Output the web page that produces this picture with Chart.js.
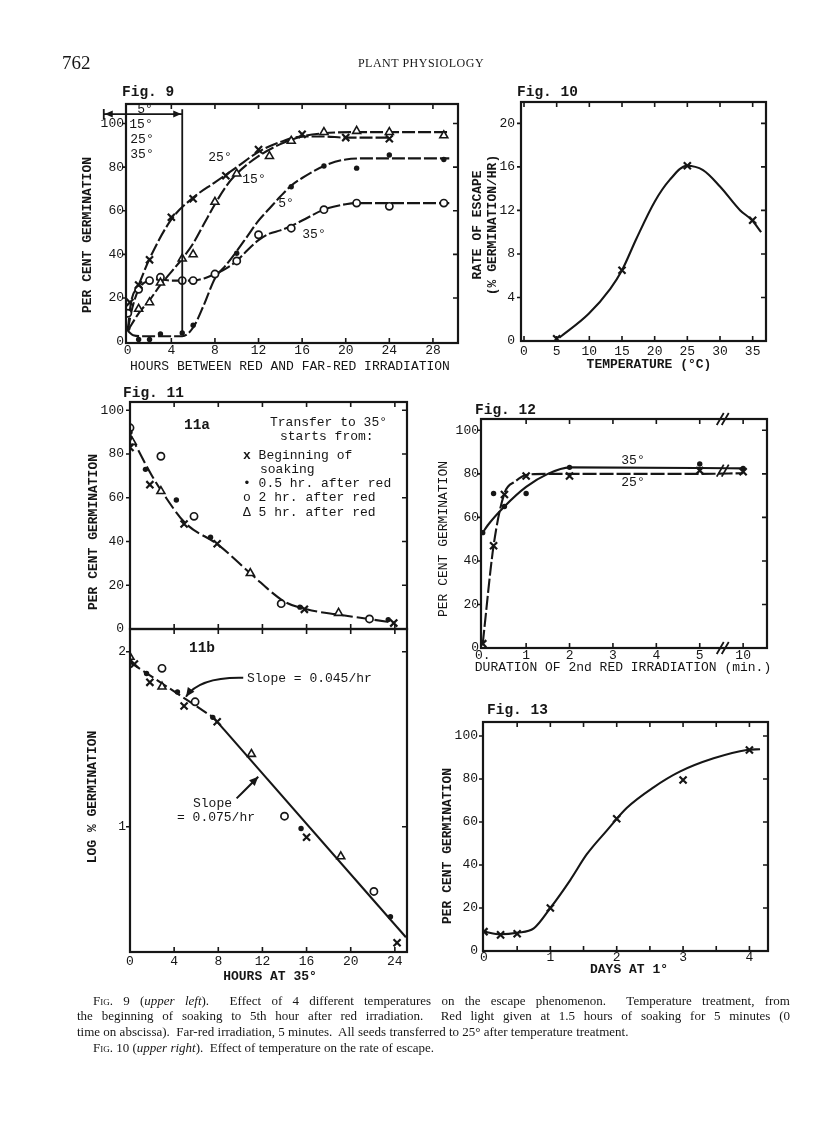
<!DOCTYPE html>
<html><head><meta charset="utf-8">
<script src="https://cdn.jsdelivr.net/npm/chart.js@4.4.1/dist/chart.umd.min.js"></script>
<style>
html,body{margin:0;padding:0;background:#fff}
#page{position:relative;width:816px;height:1121px;overflow:hidden;background:#fff}
canvas{position:absolute;left:0;top:0}
.t{position:absolute;font-family:"Liberation Mono","DejaVu Sans Mono",monospace;font-size:13px;color:#161616;white-space:nowrap;line-height:1;transform:translate(-50%,-50%)}
.l{transform:translate(0,-50%)}
.r{transform:translate(-50%,-50%) rotate(-90deg)}
.b{font-weight:bold}
.fig{font-size:14.5px;font-weight:bold}
.cap{position:absolute;font-family:"Liberation Serif","Times New Roman",serif;font-size:13px;color:#161616;line-height:15px;white-space:nowrap}
.just{text-align:justify;text-align-last:justify;white-space:normal}
.sc{font-variant:small-caps}
</style></head>
<body><div id="page">
<canvas id="c9" width="816" height="1121"></canvas>
<canvas id="c10" width="816" height="1121"></canvas>
<canvas id="c11a" width="816" height="1121"></canvas>
<canvas id="c11b" width="816" height="1121"></canvas>
<canvas id="c12" width="816" height="1121"></canvas>
<canvas id="c13" width="816" height="1121"></canvas>

<!-- header -->
<div class="cap" style="left:62px;top:52px;font-size:19px;line-height:22px">762</div>
<div class="cap" style="left:421px;top:56px;font-size:12px;letter-spacing:0.5px;transform:translateX(-50%)">PLANT PHYSIOLOGY</div>

<!-- Fig 9 texts -->
<div class="t l fig" style="left:122px;top:92px">Fig. 9</div>
<div class="t r b" style="left:87px;top:235px">PER CENT GERMINATION</div>
<div class="t" style="left:290px;top:366px">HOURS BETWEEN RED AND FAR-RED IRRADIATION</div>
<div class="t" style="left:220px;top:157px">25°</div>
<div class="t" style="left:254px;top:179px">15°</div>
<div class="t" style="left:286px;top:203px">5°</div>
<div class="t" style="left:314px;top:234px">35°</div>
<div class="t" style="left:145px;top:109px">5°</div>
<div class="t" style="left:141px;top:124px">15°</div>
<div class="t" style="left:142px;top:139px">25°</div>
<div class="t" style="left:142px;top:154px">35°</div>

<!-- Fig 10 texts -->
<div class="t l fig" style="left:517px;top:92px">Fig. 10</div>
<div class="t r b" style="left:477px;top:225px">RATE OF ESCAPE</div>
<div class="t r b" style="left:492px;top:225px">(% GERMINATION/HR)</div>
<div class="t b" style="left:649px;top:364px">TEMPERATURE  (°C)</div>

<!-- Fig 11 texts -->
<div class="t l fig" style="left:123px;top:393px">Fig. 11</div>
<div class="t fig" style="left:197px;top:425px">11a</div>
<div class="t l" style="left:270px;top:422px">Transfer to 35°</div>
<div class="t l" style="left:280px;top:436px">starts from:</div>
<div class="t l" style="left:243px;top:455px"><b>x</b> Beginning of</div>
<div class="t l" style="left:260px;top:469px">soaking</div>
<div class="t l" style="left:243px;top:483px">• 0.5 hr. after red</div>
<div class="t l" style="left:243px;top:497px">o 2 hr. after red</div>
<div class="t l" style="left:243px;top:512px">Δ 5 hr. after red</div>
<div class="t r b" style="left:93px;top:532px">PER CENT GERMINATION</div>
<div class="t fig" style="left:202px;top:648px">11b</div>
<div class="t r b" style="left:92px;top:797px">LOG % GERMINATION</div>
<div class="t b" style="left:270px;top:976px">HOURS  AT  35°</div>
<div class="t l" style="left:247px;top:678px">Slope = 0.045/hr</div>
<div class="t l" style="left:193px;top:803px">Slope</div>
<div class="t l" style="left:177px;top:817px">= 0.075/hr</div>

<!-- Fig 12 texts -->
<div class="t l fig" style="left:475px;top:410px">Fig. 12</div>
<div class="t r" style="left:443px;top:539px">PER CENT  GERMINATION</div>
<div class="t" style="left:623px;top:667px">DURATION OF 2nd RED IRRADIATION (min.)</div>
<div class="t" style="left:633px;top:460px">35°</div>
<div class="t" style="left:633px;top:482px">25°</div>

<!-- Fig 13 texts -->
<div class="t l fig" style="left:487px;top:710px">Fig. 13</div>
<div class="t r b" style="left:447px;top:846px">PER CENT  GERMINATION</div>
<div class="t b" style="left:629px;top:969px">DAYS  AT  1°</div>

<!-- caption -->
<div class="cap just" style="left:93px;top:993px;width:697px"><span class="sc">Fig.</span> 9 (<i>upper left</i>).&nbsp; Effect of 4 different temperatures on the escape phenomenon.&nbsp; Temperature treatment, from</div>
<div class="cap just" style="left:77px;top:1008px;width:713px">the beginning of soaking to 5th hour after red irradiation.&nbsp; Red light given at 1.5 hours of soaking for 5 minutes (0</div>
<div class="cap" style="left:77px;top:1024px">time on abscissa).&nbsp; Far-red irradiation, 5 minutes.&nbsp; All seeds transferred to 25° after temperature treatment.</div>
<div class="cap" style="left:93px;top:1040px"><span class="sc">Fig.</span> 10 (<i>upper right</i>).&nbsp; Effect of temperature on the rate of escape.</div>
</div>

<script>
// ---------------- DATA ----------------
// Fig 9 : per cent germination vs hours between red and far-red
const F9_XTICKS=[0,4,8,12,16,20,24,28];
const F9_YTICKS=[0,20,40,60,80,100];
const F9_25_X=[0.2,1,2,4,6,9,12,16,20,24];
const F9_25_Y=[18,26,37.5,57,65.5,76,88,95,93.5,93];
const F9_15_X=[1,2,3,5,6,8,10,13,15,18,21,24,29];
const F9_15_Y=[15,18,27,38,40,64,77,85,92,96,96.5,96,94.5];
const F9_5_X=[0,1,2,3,5,6,10,15,18,21,24,29];
const F9_5_Y=[6,1,1,3.5,4,7.5,40.5,71,80.5,79.5,85.5,83.5];
const F9_35_X=[0,1,2,3,5,6,8,10,12,15,18,21,24,29];
const F9_35_Y=[13,24,28,29.5,28,28,31,37,49,52,60.5,63.5,62,63.5];
// hand-drawn curves
const F9_25_CX=[0,0.3,1,2,4,6,8,10,12,14,16,18,20,24];
const F9_25_CY=[5,18,26,38,56,66,73,80,87,91.5,94,94,93.5,93.5];
const F9_15_CX=[0,1,2,3,4,5,6,7,8,9,10,12,14,16,18,21,29.5];
const F9_15_CY=[5,13,19,26,32,38,45,54,63,71,77,85,90.5,94,95.5,96,96];
const F9_5_CX=[0,0.5,1.5,5,6,7,8,9,10,11,12,13,14,15,16,18,20,22,29.5];
const F9_5_CY=[5,3,2.5,2.5,6.5,17,29,35,41.5,48.5,55.5,61,66.5,71.5,75,80.5,83.5,84,84];
const F9_35_CX=[0,0.3,1,2,3,4,6,7,8,9,10,11,12,13,14,15,16,18,20,21,29.5];
const F9_35_CY=[5,13,24,28,28.5,28,28,29,31,33.5,37,42,46.5,49.5,51,53,55.5,60.5,63,63.5,63.5];
const F9_ARROW={x0:-2.2,x1:5,y:104.3,yTop:106.5,yEnd:4.6};

// Fig 10 : rate of escape vs temperature
const F10_XTICKS=[0,5,10,15,20,25,30,35];
const F10_YTICKS=[0,4,8,12,16,20];
const F10_X=[5,15,25,35];
const F10_Y=[0.2,6.5,16.1,11.1];
const F10_CX=[5.4,9.9,13.2,15,17.2,20,22.3,24.9,27.4,30,33.1,34.9,36.3];
const F10_CY=[0.3,2.5,4.8,6.5,9.4,12.8,14.8,16.1,15.7,14.2,12,11.1,10];

// Fig 11a : per cent germination vs hours at 35
const F11_XTICKS=[0,4,8,12,16,20,24];
const F11A_YTICKS=[0,20,40,60,80,100];
const F11A_BEG_X=[0,1.8,4.9,7.9,15.8,23.9];
const F11A_BEG_Y=[83,66,48,39,9,2.7];
const F11A_H05_X=[0,1.4,4.2,7.3,15.4,23.4];
const F11A_H05_Y=[90,73,59,42,10,4.3];
const F11A_H2_X=[0,2.8,5.8,13.7,21.7];
const F11A_H2_Y=[92,79,51.5,11.6,4.6];
const F11A_H5_X=[0.2,2.8,10.9,18.9];
const F11A_H5_Y=[85.5,63,25.5,7.3];
const F11A_CX=[0,2,3,5,8,11,14,16,19,22,24];
const F11A_CY=[89,70,62,48.5,38.5,25,12.5,9,6.5,4.3,2.8];

// Fig 11b : log % germination vs hours at 35
const F11B_YTICKS=[1,2];
const F11B_BEG_X=[0.4,1.8,4.9,7.9,16,24.2];
const F11B_BEG_Y=[1.93,1.825,1.69,1.6,0.94,0.337];
const F11B_H05_X=[0,1.5,4.3,7.5,15.5,23.6];
const F11B_H05_Y=[1.94,1.876,1.77,1.625,0.99,0.486];
const F11B_H2_X=[2.9,5.9,14,22.1];
const F11B_H2_Y=[1.905,1.714,1.06,0.63];
const F11B_H5_X=[0,2.9,11,19.1];
const F11B_H5_Y=[1.97,1.80,1.415,0.83];
const F11B_FIT1_X=[0,7.55], F11B_FIT1_Y=[1.94,1.625];
const F11B_FIT2_X=[7.55,25], F11B_FIT2_Y=[1.625,0.368];
const F11B_ARROWS=[{from:[10.26,1.851],ctrl:[6.34,1.857],to:[5.07,1.743]},
                   {from:[9.66,1.162],ctrl:[10.87,1.238],to:[11.62,1.286]}];

// Fig 12 : per cent germination vs duration of 2nd red (min), broken axis after 5
const F12_XTICKS=[0,1,2,3,4,5,6];
const F12_XLABELS=['0.','1','2','3','4','5','10'];
const F12_YTICKS=[0,20,40,60,80,100];
const F12_MIN=[0,0.25,0.5,1,2,5,10];
const F12_25=[2,47,70.5,79,79,81.5,81];
const F12_35=[53,71,65,71,83,84.5,82.5];
const F12_25_CX=[0,0.25,0.5,0.75,1,1.5,2,5,10];
const F12_25_CY=[2,47,71,76.5,79.5,80,80,80,80.3];
const F12_35_CX=[0,0.12,0.5,1,1.5,2,5,10];
const F12_35_CY=[53,56.5,65,74,80,83,82.7,82.5];
const F12_BREAK={x:5.53,y:81.5};

// Fig 13 : per cent germination vs days at 1
const F13_XTICKS=[0,1,2,3,4];
const F13_XMARKS=[0.5,1,1.5,2,2.5,3,3.5,4];
const F13_YTICKS=[0,20,40,60,80,100];
const F13_X=[0,0.25,0.5,1,2,3,4];
const F13_Y=[9,7.5,8,20,61.5,79.5,93.5];
const F13_CX=[0,0.25,0.5,0.75,1,1.3,1.55,1.85,2.15,2.55,2.95,3.46,3.96,4.16];
const F13_CY=[9,7.8,8.5,10.5,20,33,45,56,66.5,76,83.4,89.6,93.5,93.8];

// ---------------- HELPERS ----------------
const INK='#161616';
const MONO='"Liberation Mono","DejaVu Sans Mono",monospace';
const pts=(xs,ys)=>xs.map((v,i)=>({x:v,y:ys[i]}));
const brk=d=>d<=5?d:5+(d-5)/5;
const mX=(xs,ys)=>({data:pts(xs,ys),pointStyle:'crossRot',pointRadius:5,pointBorderWidth:2.2,pointBorderColor:INK,pointBackgroundColor:INK,showLine:false});
const mDot=(xs,ys)=>({data:pts(xs,ys),pointStyle:'circle',pointRadius:2.7,pointBorderWidth:0,pointBorderColor:INK,pointBackgroundColor:INK,showLine:false});
const mCir=(xs,ys)=>({data:pts(xs,ys),pointStyle:'circle',pointRadius:3.6,pointBorderWidth:1.7,pointBorderColor:INK,pointBackgroundColor:'#fff',showLine:false});
const mTri=(xs,ys)=>({data:pts(xs,ys),pointStyle:'triangle',pointRadius:4.6,pointBorderWidth:1.6,pointBorderColor:INK,pointBackgroundColor:'#fff',showLine:false});
const curve=(xs,ys,dash)=>({data:pts(xs,ys),showLine:true,pointRadius:0,borderColor:INK,borderWidth:2.1,borderDash:dash||[],cubicInterpolationMode:'monotone',fill:false});
const straight=(xs,ys,dash)=>({data:pts(xs,ys),showLine:true,pointRadius:0,borderColor:INK,borderWidth:2.1,borderDash:dash||[],tension:0,fill:false});

function head(ctx,tx,ty,ang,L,W){
  L=L||8;W=W||3.5;
  const c=Math.cos(ang),s=Math.sin(ang);
  ctx.beginPath();ctx.moveTo(tx,ty);
  ctx.lineTo(tx-L*c-W*s,ty-L*s+W*c);
  ctx.lineTo(tx-L*c+W*s,ty-L*s-W*c);
  ctx.closePath();ctx.fill();
}

const framePlugin={id:'frame',afterDraw(chart,args,o){
  const {ctx,chartArea:a,scales:{x,y}}=chart;
  ctx.save();ctx.strokeStyle=INK;ctx.lineWidth=o.lw||2.2;
  ctx.strokeRect(a.left,a.top,a.right-a.left,a.bottom-a.top);
  ctx.lineWidth=1.6;ctx.beginPath();
  const xs=o.xMarks||x.ticks.map(t=>t.value);
  const ys=o.yMarks||y.ticks.map(t=>t.value);
  xs.forEach(v=>{const p=x.getPixelForValue(v);if(p<a.left+3||p>a.right-3)return;
    if(o.bottom!==false){ctx.moveTo(p,a.bottom+(o.cross?5:0));ctx.lineTo(p,a.bottom-5);}
    if(o.top!==false){ctx.moveTo(p,a.top);ctx.lineTo(p,a.top+5);}});
  ys.forEach(v=>{const p=y.getPixelForValue(v);if(p<a.top+3||p>a.bottom-3)return;
    ctx.moveTo(a.left,p);ctx.lineTo(a.left-4,p);
    if(o.right!==false){ctx.moveTo(a.right,p);ctx.lineTo(a.right-5,p);}});
  ctx.stroke();ctx.restore();
}};

function mk(id,box,xs,ys,datasets,frameOpts,extra){
  const font={family:MONO,size:13};
  return new Chart(document.getElementById(id),{
    type:'scatter',
    data:{datasets},
    options:{
      responsive:false,animation:false,events:[],
      layout:{padding:{left:box.l-44,right:816-box.r,top:box.t,bottom:1121-box.b-24}},
      plugins:{legend:{display:false},tooltip:{enabled:false},frame:frameOpts||{}},
      scales:{
        x:{type:'linear',bounds:'data',min:xs.min,max:xs.max,
          afterFit:s=>{s.height=24;},
          afterBuildTicks:s=>{s.ticks=xs.ticks.map(v=>({value:v}));},
          ticks:{display:xs.show!==false,autoSkip:false,maxRotation:0,minRotation:0,padding:xs.pad,color:INK,font,callback:xs.label||(v=>String(v))},
          grid:{display:false,drawTicks:false},border:{display:false}},
        y:{type:'linear',bounds:'data',min:ys.min,max:ys.max,
          afterFit:s=>{s.width=44;},
          afterBuildTicks:s=>{s.ticks=ys.ticks.map(v=>({value:v}));},
          ticks:{autoSkip:false,padding:ys.pad,color:INK,font,callback:ys.label||(v=>String(v))},
          grid:{display:false,drawTicks:false},border:{display:false}}
      }
    },
    plugins:[framePlugin].concat(extra||[])
  });
}

// ---------------- FIG 9 ----------------
const f9Arrow={id:'f9arrow',afterDraw(c){
  const {ctx,scales:{x,y}}=c,A=F9_ARROW;
  const X0=x.getPixelForValue(A.x0),X1=x.getPixelForValue(A.x1),Y=y.getPixelForValue(A.y);
  ctx.save();ctx.strokeStyle=INK;ctx.fillStyle=INK;ctx.lineWidth=1.8;
  ctx.beginPath();ctx.moveTo(X0,Y);ctx.lineTo(X1,Y);
  ctx.moveTo(X0,Y-5);ctx.lineTo(X0,Y+5);
  ctx.moveTo(X1,y.getPixelForValue(A.yTop));ctx.lineTo(X1,y.getPixelForValue(A.yEnd));
  ctx.stroke();
  head(ctx,X0+1,Y,Math.PI);head(ctx,X1-1,Y,0);
  ctx.restore();}};
mk('c9',{l:126,t:104,r:458,b:343},
  {min:-0.16,max:30.3,ticks:F9_XTICKS,pad:0},
  {min:-0.6,max:108.9,ticks:F9_YTICKS,pad:2},
  [mX(F9_25_X,F9_25_Y),mTri(F9_15_X,F9_15_Y),mDot(F9_5_X,F9_5_Y),mCir(F9_35_X,F9_35_Y),
   curve(F9_25_CX,F9_25_CY,[13,3]),curve(F9_15_CX,F9_15_CY,[13,3]),
   curve(F9_5_CX,F9_5_CY,[13,3]),curve(F9_35_CX,F9_35_CY,[13,3])],
  {},[f9Arrow]);

// ---------------- FIG 10 ----------------
mk('c10',{l:521,t:102,r:766,b:341},
  {min:-0.46,max:37.04,ticks:F10_XTICKS,pad:3},
  {min:0,max:21.96,ticks:F10_YTICKS,pad:6},
  [mX(F10_X,F10_Y),curve(F10_CX,F10_CY)],{});

// ---------------- FIG 11a ----------------
mk('c11a',{l:130,t:402,r:407,b:629},
  {min:0,max:25.1,ticks:F11_XTICKS,pad:0,show:false},
  {min:0,max:103.8,ticks:F11A_YTICKS,pad:6},
  [mX(F11A_BEG_X,F11A_BEG_Y),mDot(F11A_H05_X,F11A_H05_Y),mCir(F11A_H2_X,F11A_H2_Y),mTri(F11A_H5_X,F11A_H5_Y),
   curve(F11A_CX,F11A_CY,[14,4])],{cross:true,top:true});

// ---------------- FIG 11b ----------------
const f11Arrows={id:'f11arrows',afterDraw(c){
  const {ctx,scales:{x,y}}=c;
  ctx.save();ctx.strokeStyle=INK;ctx.fillStyle=INK;ctx.lineWidth=2;
  F11B_ARROWS.forEach(A=>{
    const fx=x.getPixelForValue(A.from[0]),fy=y.getPixelForValue(A.from[1]);
    const cx=x.getPixelForValue(A.ctrl[0]),cy=y.getPixelForValue(A.ctrl[1]);
    const tx=x.getPixelForValue(A.to[0]),ty=y.getPixelForValue(A.to[1]);
    ctx.beginPath();ctx.moveTo(fx,fy);ctx.quadraticCurveTo(cx,cy,tx,ty);ctx.stroke();
    head(ctx,tx,ty,Math.atan2(ty-cy,tx-cx),9,4);
  });
  ctx.restore();}};
mk('c11b',{l:130,t:629,r:407,b:952},
  {min:0,max:25.1,ticks:F11_XTICKS,pad:2},
  {min:0.284,max:2.13,ticks:F11B_YTICKS,pad:4},
  [mX(F11B_BEG_X,F11B_BEG_Y),mDot(F11B_H05_X,F11B_H05_Y),mCir(F11B_H2_X,F11B_H2_Y),mTri(F11B_H5_X,F11B_H5_Y),
   straight(F11B_FIT1_X,F11B_FIT1_Y,[12,4]),straight(F11B_FIT2_X,F11B_FIT2_Y)],{top:false},[f11Arrows]);

// ---------------- FIG 12 ----------------
const f12Break={id:'f12break',afterDraw(c){
  const {ctx,chartArea:a,scales:{x,y}}=c;
  const p=x.getPixelForValue(F12_BREAK.x);
  ctx.save();ctx.strokeStyle=INK;ctx.lineWidth=1.8;ctx.beginPath();
  [a.top,a.bottom,y.getPixelForValue(F12_BREAK.y)].forEach(py=>{
    [-2.5,2.5].forEach(dx=>{ctx.moveTo(p+dx-3.5,py+6);ctx.lineTo(p+dx+3.5,py-6);});
  });
  ctx.stroke();ctx.restore();}};
mk('c12',{l:481,t:419,r:767,b:648},
  {min:-0.04,max:6.55,ticks:F12_XTICKS,pad:0,label:v=>F12_XLABELS[v]},
  {min:0,max:105.2,ticks:F12_YTICKS,pad:2},
  [mX(F12_MIN.map(brk),F12_25),mDot(F12_MIN.map(brk),F12_35),
   curve(F12_25_CX.map(brk),F12_25_CY,[14,3]),curve(F12_35_CX.map(brk),F12_35_CY)],{},[f12Break]);

// ---------------- FIG 13 ----------------
mk('c13',{l:483,t:722,r:768,b:951},
  {min:-0.015,max:4.28,ticks:F13_XTICKS,pad:-1},
  {min:0,max:106.5,ticks:F13_YTICKS,pad:5},
  [mX(F13_X,F13_Y),curve(F13_CX,F13_CY)],{xMarks:F13_XMARKS});
</script>
</body></html>
